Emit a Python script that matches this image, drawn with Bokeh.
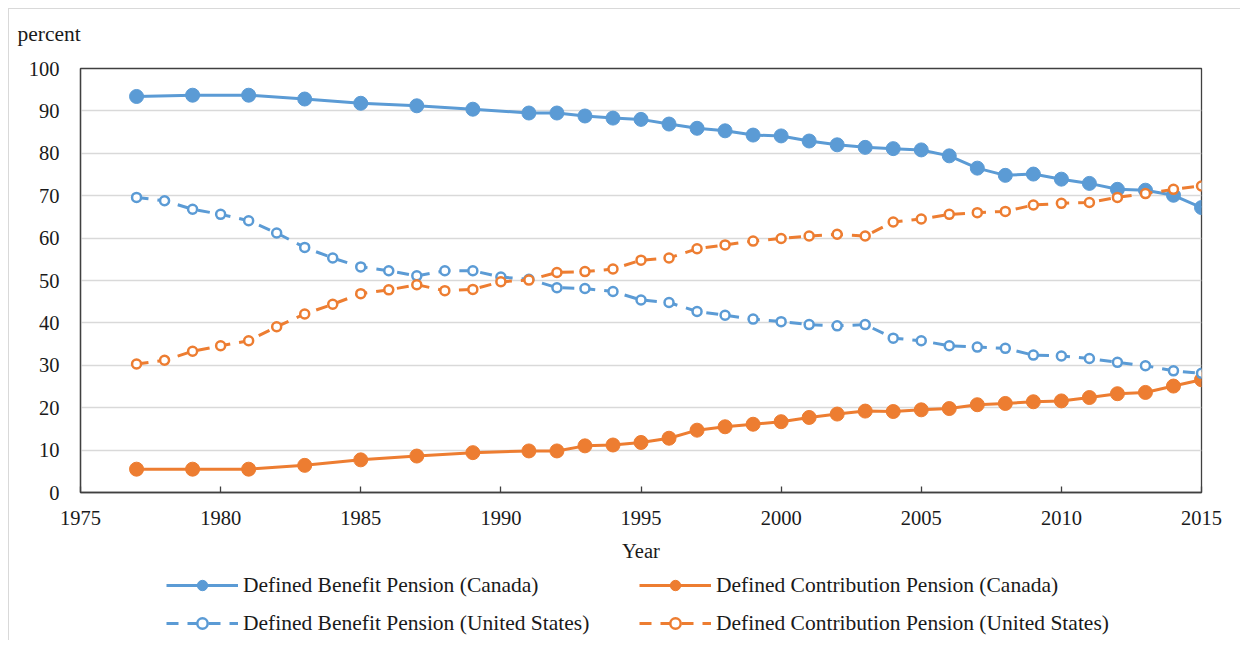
from bokeh.plotting import figure
from bokeh.models import Legend, LegendItem, Label, FixedTicker, Range1d, Plot
from bokeh.layouts import column
from bokeh.embed import file_html
from bokeh.resources import INLINE

# ---- data ----
years_ca = [1977, 1979, 1981, 1983, 1985, 1987, 1989, 1991, 1992, 1993, 1994, 1995,
            1996, 1997, 1998, 1999, 2000, 2001, 2002, 2003, 2004, 2005, 2006, 2007,
            2008, 2009, 2010, 2011, 2012, 2013, 2014, 2015]
db_canada = [93.4, 93.7, 93.7, 92.8, 91.8, 91.2, 90.4, 89.5, 89.5, 88.8, 88.3, 88.0,
             86.9, 85.9, 85.3, 84.3, 84.1, 82.9, 82.0, 81.4, 81.1, 80.8, 79.4, 76.5,
             74.8, 75.1, 73.9, 72.9, 71.5, 71.3, 70.1, 67.2]
dc_canada = [5.5, 5.5, 5.5, 6.4, 7.7, 8.6, 9.4, 9.8, 9.8, 11.0, 11.2, 11.8,
             12.8, 14.7, 15.5, 16.1, 16.7, 17.7, 18.5, 19.2, 19.1, 19.5, 19.8, 20.7,
             21.0, 21.4, 21.6, 22.4, 23.3, 23.6, 25.1, 26.6]

years_us = list(range(1977, 2016))
db_us = [69.6, 68.8, 66.8, 65.6, 64.1, 61.2, 57.8, 55.3, 53.2, 52.3, 51.1, 52.3, 52.3,
         50.8, 50.3, 48.3, 48.1, 47.4, 45.4, 44.8, 42.7, 41.8, 40.9, 40.3, 39.6, 39.3,
         39.6, 36.4, 35.8, 34.6, 34.3, 34.0, 32.4, 32.2, 31.6, 30.7, 29.9, 28.7, 28.1]
dc_us = [30.3, 31.2, 33.3, 34.6, 35.8, 39.1, 42.1, 44.4, 46.9, 47.8, 49.0, 47.6, 47.9,
         49.7, 50.1, 51.9, 52.1, 52.7, 54.8, 55.3, 57.5, 58.4, 59.3, 59.9, 60.5, 60.9,
         60.5, 63.8, 64.5, 65.6, 66.0, 66.3, 67.8, 68.2, 68.4, 69.6, 70.5, 71.5, 72.3]

x_ticks = [1975, 1980, 1985, 1990, 1995, 2000, 2005, 2010, 2015]
y_ticks = [0, 10, 20, 30, 40, 50, 60, 70, 80, 90, 100]

labels = ["Defined Benefit Pension (Canada)", "Defined Contribution Pension (Canada)",
          "Defined Benefit Pension (United States)", "Defined Contribution Pension (United States)"]

BLUE = "#5B9BD5"
ORANGE = "#ED7D31"
FONT = "Liberation Serif"
TXT = "#1a1a1a"
EDGE = "1px solid #d9d9d9"

HAS_FA = "frame_align" in Plot.properties()

def strip(height):
    f = figure(width=1232, height=height, x_axis_location=None, y_axis_location=None,
               x_range=Range1d(0, 1), y_range=Range1d(0, 1),
               output_backend="svg", toolbar_location=None, min_border=0)
    if HAS_FA:
        f.frame_align = False
    f.outline_line_color = None
    f.grid.visible = False
    return f

# ---- top strip with the unit label ----
top = strip(40)
top.styles = {"margin-left": "8px", "margin-top": "8px", "border-left": EDGE, "border-top": EDGE}
top.add_layout(Label(x=8, y=16, x_units="screen", y_units="screen", text="percent",
                     text_font=FONT, text_font_size="21.5px", text_color=TXT,
                     text_baseline="alphabetic", text_align="left"))

# ---- main chart ----
p = figure(frame_width=1120, frame_height=424, x_range=(1975, 2015), y_range=(0, 100),
           output_backend="svg", toolbar_location=None,
           min_border_left=71, min_border_right=41, min_border_top=20, min_border_bottom=70)
p.styles = {"margin-left": "8px", "border-left": EDGE}
p.background_fill_color = "white"
p.border_fill_color = "white"
p.outline_line_color = "#404040"
p.outline_line_width = 1.3

p.xgrid.visible = False
p.ygrid.grid_line_color = "#d9d9d9"
p.ygrid.grid_line_width = 1.5

p.xaxis.ticker = FixedTicker(ticks=x_ticks)
p.yaxis.ticker = FixedTicker(ticks=y_ticks)
for ax in (p.xaxis[0], p.yaxis[0]):
    ax.axis_line_color = "#404040"
    ax.axis_line_width = 1.3
    ax.major_label_text_font = FONT
    ax.major_label_text_font_size = "20.5px"
    ax.major_label_text_color = TXT
    ax.minor_tick_line_color = None
p.xaxis.major_tick_in = 6
p.xaxis.major_tick_out = 0
p.xaxis.major_tick_line_color = "#404040"
p.xaxis.major_tick_line_width = 1.3
p.xaxis.major_label_standoff = 18
p.yaxis.major_tick_line_color = None
p.yaxis.major_label_standoff = 15
p.xaxis.axis_label = "Year"
p.xaxis.axis_label_text_font = FONT
p.xaxis.axis_label_text_font_size = "20.5px"
p.xaxis.axis_label_text_font_style = "normal"
p.xaxis.axis_label_text_color = TXT
p.xaxis.axis_label_standoff = 12

STY = [dict(line_color=BLUE, line_width=3),
       dict(line_color=ORANGE, line_width=3),
       dict(line_color=BLUE, line_width=3, line_dash="12 9"),
       dict(line_color=ORANGE, line_width=3, line_dash="12 9")]
MK = [dict(size=14, fill_color=BLUE, line_color=BLUE),
      dict(size=14, fill_color=ORANGE, line_color=ORANGE),
      dict(size=9, fill_color="white", line_color=BLUE, line_width=2.5),
      dict(size=9, fill_color="white", line_color=ORANGE, line_width=2.5)]

series = [(years_ca, db_canada), (years_ca, dc_canada), (years_us, db_us), (years_us, dc_us)]
for (xs, ys), ls, ms in zip(series, STY, MK):
    p.line(xs, ys, **ls)
    p.scatter(xs, ys, **ms)

# ---- legend strip (its series lie outside its 0..1 view, only the key is shown) ----
q = strip(76)
q.styles = {"margin-left": "8px", "border-left": EDGE}
keys = []
for (xs, ys), ls, ms in zip(series, STY, MK):
    keys.append([q.line(xs, ys, **ls), q.scatter(xs, ys, **ms)])
items = [LegendItem(label=labels[0], renderers=keys[0]),
         LegendItem(label=labels[2], renderers=keys[2]),
         LegendItem(label=labels[1], renderers=keys[1]),
         LegendItem(label=labels[3], renderers=keys[3])]
lx = 157 if HAS_FA else 86
lg = Legend(items=items, location=(lx, 4), orientation="vertical", ncols=2)
lg.label_text_font = FONT
lg.label_text_font_size = "21.5px"
lg.label_text_color = TXT
lg.glyph_width = 72
lg.glyph_height = 26
lg.label_height = 26
lg.label_width = 384
lg.label_standoff = 5
lg.spacing = 12
lg.padding = 0
lg.margin = 0
lg.border_line_alpha = 0
lg.background_fill_alpha = 0
q.add_layout(lg, "center")

layout = column(top, p, q, spacing=0)
open("out.html", "w").write(file_html(layout, INLINE))
